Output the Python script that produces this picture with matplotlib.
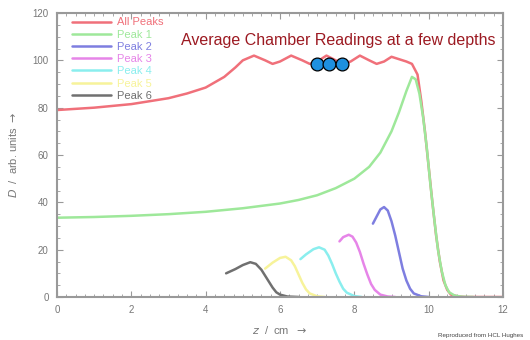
import matplotlib
matplotlib.use("Agg")
import matplotlib.pyplot as plt
from matplotlib.ticker import MultipleLocator

plt.rcParams['font.family'] = ['Liberation Sans', 'DejaVu Sans']

# ---- data ----
all_x = [0, 1, 2, 3, 3.5, 4, 4.5, 4.8, 5.0, 5.3, 5.6, 5.8, 6.0, 6.3, 6.6, 6.8, 7.0, 7.25, 7.5, 7.7,
         7.9, 8.15, 8.4, 8.6, 8.8, 9.0, 9.2, 9.4, 9.55, 9.7, 9.8, 9.9, 10.0, 10.1, 10.2, 10.3, 10.4,
         10.5, 10.6, 10.8, 11, 12]
all_y = [79, 80, 81.5, 84, 86, 88.5, 93, 97, 100, 102, 100, 98.5, 99.5, 102, 100, 98.5, 99.5, 102, 100, 98.5,
         99.5, 102, 100, 98.5, 99.5, 101.5, 100.5, 99.5, 98.5, 94, 83, 70, 55, 40, 26, 15, 7,
         3, 1, 0.2, 0, 0]

p1_x = [0, 1, 2, 3, 4, 5, 6, 6.5, 7, 7.5, 8, 8.4, 8.7, 9.0, 9.2, 9.4, 9.55, 9.65, 9.75, 9.85,
        9.95, 10.05, 10.15, 10.25, 10.35, 10.45, 10.55, 10.7, 10.9, 11.2]
p1_y = [33.5, 33.8, 34.3, 35, 36, 37.5, 39.5, 41, 43, 46, 50, 55, 61, 70, 78, 87, 93, 92, 86, 76,
        63, 47, 33, 20, 11, 5, 2, 0.6, 0.1, 0]

p2_x = [8.5, 8.6, 8.7, 8.8, 8.9, 9.0, 9.1, 9.2, 9.3, 9.4, 9.5, 9.6, 9.8, 10.0]
p2_y = [31, 34, 37, 38, 36.5, 32, 26, 19, 12, 7, 3.5, 1.5, 0.3, 0]

p3_x = [7.6, 7.7, 7.85, 7.95, 8.05, 8.15, 8.25, 8.35, 8.45, 8.55, 8.7, 8.9, 9.1]
p3_y = [23.5, 25.3, 26.3, 25.5, 23, 19, 14, 9.5, 5.5, 3, 1, 0.2, 0]

p4_x = [6.55, 6.7, 6.9, 7.05, 7.2, 7.3, 7.4, 7.5, 7.6, 7.7, 7.8, 8.0, 8.2]
p4_y = [16, 18, 20.2, 21, 20, 17.5, 14, 10, 6.5, 3.5, 1.8, 0.4, 0]

p5_x = [5.6, 5.8, 6.0, 6.15, 6.3, 6.4, 6.5, 6.6, 6.7, 6.8, 7.0, 7.2]
p5_y = [12, 14.5, 16.5, 17, 15.5, 13, 9.5, 6, 3.2, 1.5, 0.3, 0]

p6_x = [4.55, 4.8, 5.0, 5.2, 5.35, 5.5, 5.6, 5.7, 5.8, 5.9, 6.0, 6.2, 6.5]
p6_y = [10, 11.8, 13.5, 14.7, 14, 11.5, 9, 6.5, 4, 2, 1, 0.2, 0]

labels = ["All Peaks", "Peak 1", "Peak 2", "Peak 3", "Peak 4", "Peak 5", "Peak 6"]
colors = ["#f0707a", "#9ee89a", "#7e7ee0", "#e685e8", "#8aeeee", "#f7f39a", "#707070"]

marker_x = [7.0, 7.33, 7.66]
marker_y = [98.3, 98.3, 98.3]

x_ticks = [0, 2, 4, 6, 8, 10, 12]
y_ticks = [0, 20, 40, 60, 80, 100, 120]

title = "Average Chamber Readings at a few depths"
credit = "Reproduced from HCL Hughes"

# ---- figure ----
fig = plt.figure(figsize=(5.3, 3.4), dpi=100)
ax = fig.add_axes([57/530, 43/340, 446/530, 284/340])

series = [(all_x, all_y), (p1_x, p1_y), (p2_x, p2_y), (p3_x, p3_y),
          (p4_x, p4_y), (p5_x, p5_y), (p6_x, p6_y)]
for (xs, ys), lab, col in zip(series, labels, colors):
    ax.plot(xs, ys, color=col, lw=1.8, label=lab, solid_capstyle='round')

ax.scatter(marker_x, marker_y, s=85, color="#1e90e0", edgecolor="black", linewidth=0.9, zorder=5)

ax.set_xlim(0, 12)
ax.set_ylim(0, 120)
ax.set_xticks(x_ticks)
ax.set_yticks(y_ticks)
ax.xaxis.set_minor_locator(MultipleLocator(0.25))
ax.yaxis.set_minor_locator(MultipleLocator(5))
ax.tick_params(which='both', direction='in', top=True, right=True, color='#999999')
ax.tick_params(which='major', length=4, labelsize=7, labelcolor='#777777', pad=6)
ax.tick_params(which='minor', length=2)
for s in ax.spines.values():
    s.set_color('#999999')
    s.set_linewidth(1.5)

ax.set_xlabel(r"$z$  /  cm  $\rightarrow$", fontsize=8, color='#777777', labelpad=6)
ax.set_ylabel(r"$D$  /  arb. units $\rightarrow$", fontsize=8, color='#777777', labelpad=10)

leg = ax.legend(loc='upper left', bbox_to_anchor=(0.018, 1.008), frameon=False, fontsize=8,
                handlelength=3.5, labelspacing=0.2, borderaxespad=0.2, handletextpad=0.6,
                labelcolor='linecolor')

fig.text(338/530, 1 - 40/340, title, fontsize=11.5, color='#9c1a22', ha='center', va='center')
fig.text(523/530, 1 - 336/340, credit, fontsize=4.5, color='#444444', ha='right', va='center')

fig.savefig("out.png", dpi=100)
